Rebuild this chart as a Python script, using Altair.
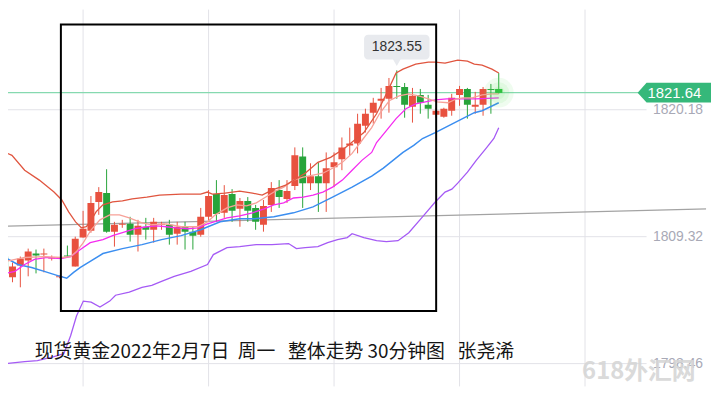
import altair as alt
import pandas as pd

# ---------------- data ----------------
candle_open = [1807.62, 1805.84, 1806.86, 1807.28, 1807.88, 1807.79, 1807.45, 1805.84, 1807.71, 1806.77,
               1809.24, 1809.83, 1812.29, 1813.05, 1809.75, 1810.34, 1810.42, 1809.49, 1810.17, 1809.91,
               1810.34, 1810.34, 1809.58, 1810.17, 1809.75, 1809.49, 1811.02, 1812.97, 1811.36, 1812.97,
               1811.70, 1812.38, 1811.78, 1810.34, 1812.04, 1813.31, 1812.55, 1813.65, 1816.19, 1813.90,
               1814.50, 1813.90, 1815.26, 1815.94, 1817.13, 1817.30, 1818.82, 1819.93, 1820.95, 1821.12,
               1822.22, 1822.13, 1820.44, 1821.45, 1820.61, 1819.76, 1819.59, 1820.10, 1821.45, 1821.96,
               1820.44, 1820.61, 1821.96, 1821.96]
candle_close = [1806.35, 1806.77, 1807.45, 1808.05, 1807.71, 1807.88, 1807.54, 1805.93, 1807.62, 1809.15,
                1810.00, 1812.21, 1813.14, 1809.75, 1810.34, 1810.42, 1809.49, 1810.25, 1809.91, 1810.59,
                1810.42, 1809.49, 1810.17, 1809.75, 1809.41, 1811.02, 1812.80, 1811.27, 1812.88, 1811.53,
                1812.38, 1811.53, 1810.59, 1811.95, 1813.48, 1812.71, 1813.22, 1816.28, 1813.90, 1814.50,
                1813.90, 1815.18, 1815.68, 1816.96, 1817.30, 1818.99, 1819.84, 1820.78, 1821.12, 1822.22,
                1822.13, 1820.61, 1821.37, 1820.78, 1820.27, 1820.10, 1820.27, 1821.20, 1821.96, 1820.61,
                1820.61, 1821.96, 1821.88, 1821.64]
candle_high = [1807.79, 1807.11, 1807.62, 1808.30, 1808.22, 1808.30, 1807.71, 1806.01, 1808.56, 1809.32,
               1811.53, 1812.80, 1813.56, 1815.09, 1810.59, 1810.76, 1811.02, 1810.76, 1810.93, 1810.93,
               1810.59, 1810.76, 1810.59, 1810.59, 1810.17, 1811.78, 1813.31, 1814.16, 1813.73, 1813.39,
               1812.63, 1812.71, 1812.04, 1812.46, 1813.99, 1814.16, 1814.16, 1816.96, 1816.96, 1815.60,
               1815.68, 1816.53, 1816.53, 1817.81, 1818.65, 1819.84, 1820.27, 1821.20, 1822.05, 1822.90,
               1823.55, 1822.47, 1822.05, 1821.96, 1821.45, 1820.35, 1820.35, 1821.54, 1822.22, 1822.05,
               1821.71, 1822.13, 1822.39, 1823.32]
candle_low = [1806.01, 1805.42, 1804.99, 1805.93, 1806.18, 1806.27, 1807.28, 1805.76, 1807.54, 1806.77,
              1809.24, 1809.66, 1811.19, 1809.66, 1808.47, 1810.08, 1808.90, 1808.05, 1809.07, 1808.81,
              1809.91, 1808.64, 1808.64, 1808.22, 1808.22, 1809.32, 1810.59, 1810.59, 1810.93, 1810.59,
              1810.17, 1810.59, 1809.91, 1809.75, 1811.44, 1811.78, 1812.21, 1813.31, 1811.78, 1813.31,
              1811.44, 1811.44, 1813.56, 1815.01, 1816.28, 1816.45, 1818.23, 1818.99, 1819.42, 1819.93,
              1821.12, 1819.50, 1819.08, 1819.84, 1819.42, 1819.50, 1819.50, 1819.67, 1820.52, 1819.42,
              1819.84, 1819.67, 1819.84, 1821.55]

upper_x = [0.06, 0.93, 2.55, 4.42, 6.29, 7.29, 8.16, 9.04, 9.78, 10.41, 10.91, 11.65, 12.53, 13.77, 15.02,
           16.26, 18.13, 19.75, 22.50, 24.99, 25.86, 26.48, 28.10, 29.97, 31.59, 32.84, 34.08, 35.83, 38.32,
           39.94, 41.56, 43.31, 44.55, 45.80, 47.42, 48.67, 49.91, 50.79, 52.41, 54.03, 54.90, 56.15, 57.77,
           59.01, 59.88, 60.88, 62.13, 63.00]
upper_y = [1816.53, 1816.28, 1815.01, 1814.16, 1813.14, 1812.46, 1811.44, 1810.59, 1810.08, 1810.17, 1810.59,
           1811.44, 1812.04, 1812.29, 1812.38, 1812.55, 1812.71, 1812.88, 1812.97, 1812.97, 1813.14, 1812.97,
           1813.05, 1813.22, 1813.05, 1812.88, 1813.31, 1813.73, 1814.75, 1815.68, 1816.11, 1816.87, 1817.55,
           1818.23, 1819.84, 1821.54, 1823.32, 1823.66, 1824.08, 1824.25, 1824.25, 1824.17, 1824.42, 1824.34,
           1824.08, 1824.00, 1823.66, 1823.32]

ma5_x = [0.06, 2.55, 5.05, 7.29, 8.41, 9.16, 10.03, 11.03, 12.15, 13.40, 14.64, 15.89, 17.51, 18.76, 20.63,
         22.50, 24.61, 25.86, 26.86, 28.35, 29.60, 30.84, 32.09, 33.09, 34.33, 35.58, 36.83, 38.07, 39.32,
         40.57, 41.81, 43.06, 44.30, 45.55, 46.80, 47.79, 49.04, 50.29, 51.53, 52.78, 54.03, 55.15, 56.52,
         57.64, 58.39, 59.63, 60.88, 62.13, 63.00]
ma5_y = [1807.20, 1807.54, 1807.62, 1807.54, 1807.62, 1808.05, 1808.81, 1809.91, 1810.76, 1811.19, 1811.19,
         1810.93, 1810.51, 1810.34, 1810.42, 1810.17, 1810.17, 1810.59, 1811.19, 1811.78, 1812.04, 1811.95,
         1812.21, 1812.63, 1813.14, 1813.56, 1814.16, 1814.41, 1814.58, 1814.75, 1815.18, 1815.68, 1816.45,
         1817.55, 1818.65, 1819.84, 1820.95, 1821.37, 1821.54, 1821.37, 1821.12, 1820.86, 1820.78, 1821.12,
         1821.20, 1821.20, 1821.45, 1821.54, 1821.54]

ma10_x = [0.06, 1.31, 2.55, 3.80, 5.42, 7.17, 8.41, 9.66, 10.91, 12.53, 13.77, 15.02, 16.64, 18.13, 19.38,
          20.63, 21.87, 23.37, 24.61, 25.86, 27.11, 28.35, 29.97, 31.59, 33.09, 34.33, 35.58, 36.83, 38.07,
          39.32, 40.57, 41.81, 43.06, 44.30, 45.55, 46.80, 47.42, 48.67, 49.91, 51.16, 52.41, 53.65, 54.90,
          56.39, 58.01, 60.13, 63.00]
ma10_y = [1806.18, 1806.35, 1806.94, 1807.37, 1807.54, 1807.45, 1807.62, 1808.22, 1808.81, 1809.07, 1809.41,
          1809.66, 1810.00, 1810.17, 1810.25, 1810.17, 1810.08, 1810.00, 1810.08, 1810.42, 1810.68, 1810.93,
          1811.10, 1811.36, 1811.70, 1812.04, 1812.21, 1812.63, 1812.71, 1812.88, 1813.14, 1813.56, 1814.16,
          1815.01, 1815.85, 1816.53, 1817.38, 1818.40, 1819.42, 1820.27, 1820.69, 1820.86, 1821.03, 1821.12,
          1821.12, 1821.12, 1821.20]

mid_x = [0.06, 1.68, 3.43, 5.05, 6.67, 7.91, 8.79, 9.66, 10.91, 12.53, 15.02, 17.51, 20.00, 22.50, 24.99,
         27.48, 29.97, 31.84, 34.33, 36.83, 39.32, 41.81, 44.30, 46.80, 48.29, 50.79, 52.16, 53.28, 54.90,
         57.39, 59.88, 60.88, 63.00]
mid_y = [1807.54, 1806.94, 1806.69, 1806.35, 1806.01, 1805.76, 1806.27, 1806.69, 1807.20, 1807.88, 1808.30,
         1808.64, 1809.07, 1809.41, 1809.91, 1810.59, 1810.85, 1810.85, 1811.02, 1811.36, 1811.87, 1812.71,
         1813.56, 1814.50, 1815.18, 1816.53, 1817.13, 1817.72, 1818.23, 1819.08, 1819.93, 1820.10, 1820.78]

lower_x = [0.06, 2.55, 4.18, 6.29, 7.54, 8.41, 9.16, 10.03, 11.03, 12.15, 13.40, 14.14, 15.89, 17.51, 18.76,
           20.00, 21.62, 23.74, 25.86, 26.61, 28.35, 29.97, 32.09, 34.08, 36.20, 37.20, 38.32, 39.94, 41.19,
           42.44, 43.68, 44.30, 45.80, 47.42, 48.67, 50.16, 51.53, 53.28, 54.90, 56.15, 57.02, 57.77, 59.01,
           60.13, 61.38, 62.38, 63.00]
lower_y = [1798.46, 1798.63, 1798.71, 1799.05, 1799.31, 1800.84, 1802.53, 1803.81, 1803.72, 1803.30, 1803.81,
           1804.31, 1804.57, 1804.99, 1805.16, 1805.50, 1805.93, 1806.35, 1806.94, 1807.79, 1808.39, 1808.47,
           1808.64, 1808.64, 1808.73, 1808.30, 1808.39, 1808.47, 1808.81, 1809.07, 1809.24, 1809.58, 1809.24,
           1808.98, 1808.90, 1808.98, 1809.66, 1811.02, 1812.29, 1813.14, 1813.39, 1813.90, 1814.84, 1815.85,
           1816.87, 1817.72, 1818.65]

trend_x = [0.0, 90.0]
trend_y = [1810.21, 1811.70]

grid_prices = [1820.18, 1809.32, 1798.46]
grid_labels = ["1820.18", "1809.32", "1798.46"]
vgrid_idx = [10, 26, 42, 58, 74]

last_price = 1821.64
last_label = "1821.64"
peak_idx = 50
peak_price = 1823.55
peak_label = "1823.55"

box_x, box_x2 = 7.17, 55.02
box_y, box_y2 = 1827.48, 1802.96

NB = "\u00a0"
caption = ("现货黄金2022年2月7日" + NB * 2 + "周一" + NB * 3 + "整体走势" + NB + "30分钟图"
           + NB * 3 + "张尧浠")
watermark = "618外汇网"

# ---------------- styling ----------------
RED = "#e8513f"
GREEN = "#27a43a"
W, H = 704, 380
xs = alt.Scale(domain=[1.059, 88.80], nice=False, zero=False)
ys = alt.Scale(domain=[1796.51, 1828.75], nice=False, zero=False)


def X(f):
    return alt.X(f, type="quantitative", scale=xs, axis=None)


def Y(f):
    return alt.Y(f, type="quantitative", scale=ys, axis=None)


n = len(candle_open)
candles = pd.DataFrame({
    "i": list(range(n)),
    "open": candle_open,
    "close": candle_close,
    "high": candle_high,
    "low": candle_low,
})
candles["last"] = candles["i"] == n - 1

col = alt.condition("datum.close >= datum.open", alt.value(RED), alt.value(GREEN))

grid_h = pd.DataFrame({"p": grid_prices, "lab": grid_labels})
grid_v = pd.DataFrame({"i": vgrid_idx})

hgrid = alt.Chart(grid_h).mark_rule(color="#e2e2e8", strokeWidth=1).encode(
    y=Y("p"), x=alt.value(0), x2=alt.value(644))
vgrid = alt.Chart(grid_v).mark_rule(color="#e2e2e8", strokeWidth=1).encode(
    x=X("i"), y=alt.value(0), y2=alt.value(H))
glabels = alt.Chart(grid_h).mark_text(align="right", baseline="middle", fontSize=14,
                                      font="Liberation Sans", color="#a8a9b6").encode(
    y=Y("p"), x=alt.value(701), text="lab:N")

trend = alt.Chart(pd.DataFrame({"x": trend_x, "y": trend_y})).mark_line(
    color="#a3a3a3", strokeWidth=1.2, clip=True).encode(x=X("x"), y=Y("y"))

last_df = pd.DataFrame({"p": [last_price], "lab": [last_label], "i": [n - 1]})
price_line = alt.Chart(last_df).mark_rule(color="#86d9b0", strokeWidth=1.3).encode(
    y=Y("p"), x=alt.value(0), x2=alt.value(640))


def line(xv, yv, color, w=1.3):
    return alt.Chart(pd.DataFrame({"x": xv, "y": yv})).mark_line(
        color=color, strokeWidth=w, clip=True).encode(x=X("x"), y=Y("y"))


l_upper = line(upper_x, upper_y, "#e0553f")
l_ma5 = line(ma5_x, ma5_y, "#f7a198")
l_ma10 = line(ma10_x, ma10_y, "#f52cf0")
l_mid = line(mid_x, mid_y, "#3b8ef0", 1.5)
l_lower = line(lower_x, lower_y, "#a55af5")

wicks = alt.Chart(candles).mark_rule(strokeWidth=1, clip=True).encode(
    x=X("i"), y=Y("low"), y2="high", color=col)
bodies = alt.Chart(candles).mark_bar(size=7, clip=True).encode(
    x=X("i"), y=Y("open"), y2="close", color=col)

glow_df = pd.DataFrame({"i": [n - 1] * 3, "p": [last_price] * 3, "s": [900, 450, 160]})
glow = alt.Chart(glow_df).mark_circle(color="#5ee35e", opacity=0.1).encode(
    x=X("i"), y=Y("p"), size=alt.Size("s:Q", scale=None, legend=None))
last_body = alt.Chart(candles[candles["last"]]).mark_bar(size=7, color="#2fc43f").encode(
    x=X("i"), y=Y("open"), y2="close")

frame = alt.Chart(pd.DataFrame({"x": [box_x], "x2": [box_x2], "y": [box_y], "y2": [box_y2]})).mark_rect(
    fillOpacity=0, stroke="#000000", strokeWidth=2).encode(x=X("x"), x2="x2", y=Y("y"), y2="y2")

peak_df = pd.DataFrame({"i": [peak_idx], "p": [peak_price], "lab": [peak_label]})
tip_box = alt.Chart(peak_df).mark_rect(color="#e8eaee", cornerRadius=4, xOffset=-33, x2Offset=33,
                                       yOffset=-36, y2Offset=-11).encode(
    x=X("i"), x2="i", y=Y("p"), y2="p")
tip_ptr = alt.Chart(peak_df).mark_point(shape="triangle-down", filled=True, size=70, opacity=1,
                                        color="#e8eaee", yOffset=-8).encode(x=X("i"), y=Y("p"))
tip_txt = alt.Chart(peak_df).mark_text(fontSize=14, font="Liberation Sans", color="#333333",
                                       dy=-23.5, baseline="middle").encode(
    x=X("i"), y=Y("p"), text="lab:N")

tag = alt.Chart(last_df).mark_point(
    shape="M -3.7 0 L -2.8 -1 L 3.7 -1 L 3.7 1 L -2.8 1 Z", filled=True, size=400, opacity=1,
    color="#35b87a", strokeWidth=0).encode(x=alt.value(672), y=Y("p"))
tag_txt = alt.Chart(last_df).mark_text(fontSize=15, font="Liberation Sans", color="white",
                                       baseline="middle").encode(
    x=alt.value(672), y=Y("p"), text="lab:N")

cap = alt.Chart(pd.DataFrame({"t": [caption]})).mark_text(
    align="left", baseline="middle", fontSize=19, font="Noto Sans CJK SC", color="#151515").encode(
    x=alt.value(27), y=alt.value(345), text="t:N")
wm = alt.Chart(pd.DataFrame({"t": [watermark]})).mark_text(
    align="left", baseline="middle", fontSize=24, font="Noto Sans CJK SC", fontWeight="bold",
    color="#d6d6d6", opacity=0.9).encode(x=alt.value(579), y=alt.value(366), text="t:N")

chart = alt.layer(
    hgrid, vgrid, glabels, trend, price_line,
    wicks, bodies,
    l_lower, l_mid, l_ma10, l_ma5, l_upper,
    glow, last_body,
    frame, tip_box, tip_ptr, tip_txt, tag, tag_txt, cap, wm,
).properties(
    width=W, height=H,
    autosize=alt.AutoSizeParams(type="none"),
    padding={"left": 0, "top": 0, "right": 6, "bottom": 0},
    background="white",
).configure_view(strokeWidth=0)

chart.save("out.html", embed_options={"renderer": "svg", "actions": False})
